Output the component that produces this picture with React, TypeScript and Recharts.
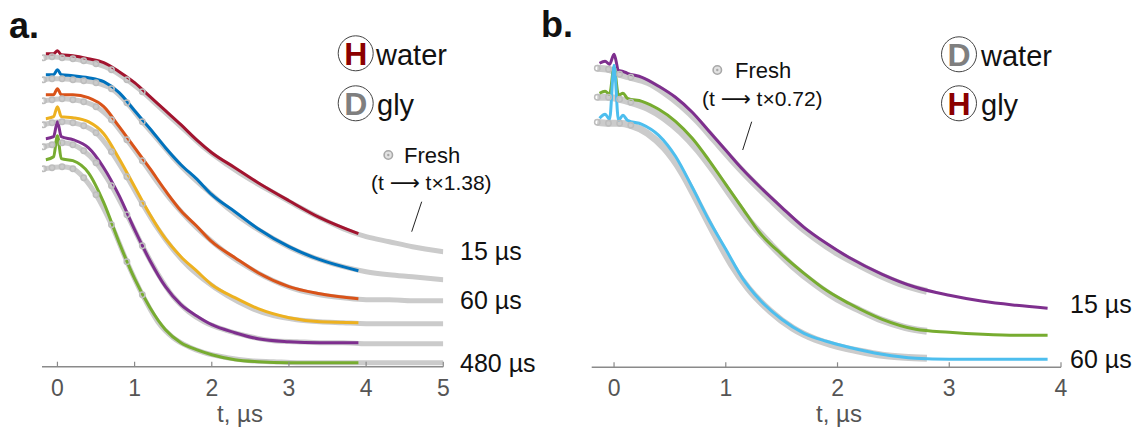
import React from 'react';
import { LineChart, Line, XAxis, YAxis } from 'recharts';

// panel a: measured traces (colored) share one time grid, µs
const tA = [-0.15, -0.05, 0, 0.05, 0.2, 0.4, 0.6, 0.8, 1.0, 1.2, 1.4, 1.6, 1.8, 2.0, 2.3, 2.6, 3.0, 3.4, 3.9];
const redA = [3.13, 3.13, 3.16, 3.12, 3.11, 3.08, 3.04, 2.95, 2.84, 2.7, 2.56, 2.42, 2.27, 2.14, 1.99, 1.84, 1.66, 1.49, 1.33];
const blueA = [2.92, 2.92, 2.97, 2.92, 2.91, 2.89, 2.85, 2.74, 2.56, 2.38, 2.19, 2.02, 1.88, 1.72, 1.55, 1.38, 1.2, 1.07, 0.96];
const orangeA = [2.72, 2.72, 2.78, 2.72, 2.72, 2.69, 2.6, 2.4, 2.19, 1.98, 1.76, 1.56, 1.41, 1.25, 1.09, 0.94, 0.8, 0.73, 0.68];
const yellowA = [2.48, 2.5, 2.6, 2.5, 2.49, 2.45, 2.33, 2.08, 1.8, 1.52, 1.28, 1.1, 0.96, 0.82, 0.69, 0.58, 0.49, 0.45, 0.44];
const purpleA = [2.28, 2.3, 2.45, 2.3, 2.27, 2.19, 1.99, 1.71, 1.37, 1.06, 0.8, 0.62, 0.51, 0.42, 0.34, 0.28, 0.25, 0.24, 0.24];
const greenA = [2.07, 2.1, 2.31, 2.08, 2.06, 1.94, 1.64, 1.24, 0.88, 0.59, 0.37, 0.24, 0.17, 0.12, 0.07, 0.05, 0.04, 0.04, 0.04];

// panel a: fresh sample (grey circles), rescaled time
const tFreshA = [-0.18, -0.07, 0.06, 0.2, 0.34, 0.5, 0.7, 0.9, 1.1, 1.3, 1.5, 1.7, 1.9, 2.2, 2.5, 2.8, 3.1, 3.4, 3.7, 4.0, 4.3, 4.6, 5.0];
const freshA = [
  [3.09, 3.1, 3.09, 3.08, 3.06, 3.03, 2.97, 2.87, 2.75, 2.61, 2.47, 2.33, 2.19, 2.02, 1.87, 1.74, 1.61, 1.49, 1.38, 1.3, 1.25, 1.2, 1.15],
  [2.87, 2.88, 2.88, 2.87, 2.86, 2.84, 2.78, 2.64, 2.45, 2.27, 2.09, 1.93, 1.79, 1.59, 1.42, 1.28, 1.16, 1.07, 1.0, 0.95, 0.92, 0.9, 0.87],
  [2.66, 2.67, 2.68, 2.67, 2.65, 2.6, 2.47, 2.27, 2.06, 1.84, 1.64, 1.47, 1.32, 1.13, 0.98, 0.86, 0.77, 0.72, 0.69, 0.67, 0.67, 0.66, 0.66],
  [2.42, 2.44, 2.45, 2.44, 2.41, 2.34, 2.15, 1.9, 1.63, 1.38, 1.17, 1.0, 0.87, 0.71, 0.59, 0.51, 0.47, 0.45, 0.44, 0.43, 0.43, 0.43, 0.43],
  [2.2, 2.22, 2.24, 2.22, 2.16, 2.04, 1.81, 1.52, 1.21, 0.93, 0.7, 0.55, 0.45, 0.36, 0.3, 0.26, 0.25, 0.24, 0.24, 0.23, 0.23, 0.23, 0.23],
  [1.98, 1.99, 2.0, 1.98, 1.89, 1.72, 1.42, 1.05, 0.72, 0.45, 0.29, 0.2, 0.14, 0.09, 0.06, 0.05, 0.04, 0.04, 0.04, 0.04, 0.04, 0.04, 0.04],
];

// panel b
const tB = [-0.13, -0.08, -0.04, 0, 0.04, 0.08, 0.12, 0.25, 0.4, 0.55, 0.7, 0.85, 1.0, 1.15, 1.3, 1.5, 1.7, 1.9, 2.1, 2.4, 2.7, 3.0, 3.3, 3.6, 3.88];
const purpleB = [3.04, 3.06, 3.03, 3.13, 2.97, 2.96, 2.94, 2.9, 2.81, 2.7, 2.55, 2.36, 2.17, 1.98, 1.81, 1.6, 1.4, 1.24, 1.1, 0.93, 0.8, 0.72, 0.66, 0.62, 0.59];
const greenB = [2.74, 2.76, 2.73, 3.0, 2.72, 2.74, 2.69, 2.66, 2.58, 2.46, 2.29, 2.07, 1.83, 1.59, 1.35, 1.13, 0.94, 0.77, 0.64, 0.48, 0.38, 0.35, 0.33, 0.32, 0.32];
const cyanB = [2.49, 2.53, 2.48, 3.02, 2.47, 2.52, 2.47, 2.43, 2.32, 2.11, 1.8, 1.47, 1.18, 0.89, 0.68, 0.48, 0.34, 0.26, 0.2, 0.13, 0.09, 0.08, 0.08, 0.08, 0.08];

const tFreshB = [-0.15, -0.05, 0.05, 0.15, 0.3, 0.45, 0.6, 0.75, 0.9, 1.05, 1.2, 1.4, 1.6, 1.8, 2.0, 2.2, 2.4, 2.6, 2.8];
const freshB = [
  [2.99, 2.98, 2.93, 2.9, 2.85, 2.75, 2.62, 2.46, 2.27, 2.08, 1.9, 1.68, 1.47, 1.29, 1.14, 1.02, 0.91, 0.82, 0.76],
  [2.7, 2.7, 2.68, 2.65, 2.59, 2.49, 2.35, 2.17, 1.95, 1.71, 1.48, 1.23, 1.01, 0.83, 0.68, 0.57, 0.47, 0.4, 0.36],
  [2.45, 2.44, 2.44, 2.42, 2.34, 2.19, 1.96, 1.65, 1.33, 1.03, 0.79, 0.56, 0.39, 0.28, 0.21, 0.16, 0.12, 0.1, 0.09],
];

const ticksA = [0, 1, 2, 3, 4, 5];
const ticksB = [0, 1, 2, 3, 4];

const colorsA = ['#a2142f', '#0072bd', '#d95319', '#edb120', '#7e2f8e', '#77ac30'];
const colorsB = ['#7e2f8e', '#77ac30', '#4dbeee'];

const FONT = '"Liberation Sans", Arial, Helvetica, sans-serif';
const GREY = '#cbcbcb';

const zip = (t: number[], v: number[]) => t.map((x, i) => ({ t: x, v: v[i] }));

const AxisTick = (props: any) => {
  const { x, y, payload } = props;
  return (
    <g>
      <line x1={x} x2={x} y1={y} y2={y - 5} stroke="#8a8a8a" strokeWidth={1.2} />
      <text x={x} y={y + 29} textAnchor="middle" fontSize={23} fill="#555" fontFamily={FONT}>
        {payload.value}
      </text>
    </g>
  );
};

const circleDot = (maxT: number) => (props: any) => {
  const { cx, cy, payload, index } = props;
  if (payload.t > maxT) return <g key={`d${index}`} />;
  return <circle key={`d${index}`} cx={cx} cy={cy} r={2.7} fill="none" stroke="#bdbdbd" strokeWidth={1.5} />;
};

const Circled = ({ cx, cy, letter, color }: { cx: number; cy: number; letter: string; color: string }) => (
  <g>
    <circle cx={cx} cy={cy} r={17.5} fill="none" stroke="#444" strokeWidth={1} />
    <text x={cx} y={cy + 11.5} textAnchor="middle" fontSize={32} fontWeight="bold" fill={color} fontFamily={FONT}>
      {letter}
    </text>
  </g>
);

const FreshMark = ({ cx, cy }: { cx: number; cy: number }) => (
  <g>
    <circle cx={cx} cy={cy} r={4.2} fill="#e2e2e2" stroke="#a8a8a8" strokeWidth={1.6} />
    <circle cx={cx} cy={cy} r={1.2} fill="#a8a8a8" />
  </g>
);

const Arrow = () => <tspan fontFamily='"DejaVu Sans", sans-serif'>⟶</tspan>;

export default function App() {
  const txt = { fontFamily: FONT, fill: '#111' };
  return (
    <div style={{ position: 'absolute', left: 0, top: 0, width: 1139, height: 429, background: '#fff', overflow: 'hidden' }}>
      <div style={{ position: 'absolute', left: 0, top: 0 }}>
        <LineChart width={560} height={429} margin={{ top: 36.7, right: 116.7, bottom: 32.3, left: 42 }}>
          <XAxis
            type="number"
            dataKey="t"
            domain={[-0.2, 5]}
            ticks={ticksA}
            allowDataOverflow
            height={30}
            tickSize={0}
            tickMargin={0}
            tickLine={false}
            axisLine={{ stroke: '#8a8a8a', strokeWidth: 1.5 }}
            tick={<AxisTick />}
          />
          <YAxis type="number" domain={[0, 3.3]} hide width={0} />
          {freshA.map((v, i) => (
            <Line
              key={`fa${i}`}
              data={zip(tFreshA, v)}
              dataKey="v"
              type="monotone"
              stroke={GREY}
              strokeWidth={5}
              dot={circleDot(1.2)}
              isAnimationActive={false}
            />
          ))}
          {[redA, blueA, orangeA, yellowA, purpleA, greenA].map((v, i) => (
            <Line
              key={`ca${i}`}
              data={zip(tA, v)}
              dataKey="v"
              type="monotone"
              stroke={colorsA[i]}
              strokeWidth={3}
              dot={false}
              isAnimationActive={false}
            />
          ))}
        </LineChart>
      </div>
      <div style={{ position: 'absolute', left: 560, top: 0 }}>
        <LineChart width={579} height={429} margin={{ top: 37.3, right: 78, bottom: 31.7, left: 31.7 }}>
          <XAxis
            type="number"
            dataKey="t"
            domain={[-0.2, 4]}
            ticks={ticksB}
            allowDataOverflow
            height={30}
            tickSize={0}
            tickMargin={0}
            tickLine={false}
            axisLine={{ stroke: '#8a8a8a', strokeWidth: 1.5 }}
            tick={<AxisTick />}
          />
          <YAxis type="number" domain={[0, 3.3]} hide width={0} />
          {freshB.map((v, i) => (
            <Line
              key={`fb${i}`}
              data={zip(tFreshB, v)}
              dataKey="v"
              type="monotone"
              stroke={GREY}
              strokeWidth={7}
              dot={circleDot(0.2)}
              isAnimationActive={false}
            />
          ))}
          {[purpleB, greenB, cyanB].map((v, i) => (
            <Line
              key={`cb${i}`}
              data={zip(tB, v)}
              dataKey="v"
              type="monotone"
              stroke={colorsB[i]}
              strokeWidth={3}
              dot={false}
              isAnimationActive={false}
            />
          ))}
        </LineChart>
      </div>
      <svg width={1139} height={429} style={{ position: 'absolute', left: 0, top: 0, pointerEvents: 'none' }}>
        <text x={9} y={38} fontSize={36} fontWeight="bold" {...txt}>a.</text>
        <text x={541} y={37} fontSize={36} fontWeight="bold" {...txt}>b.</text>

        <Circled cx={355.7} cy={53.3} letter="H" color="#8b0000" />
        <text x={376} y={65} fontSize={29} {...txt}>water</text>
        <Circled cx={355.7} cy={103.3} letter="D" color="#7f7f7f" />
        <text x={377} y={115} fontSize={29} {...txt}>gly</text>

        <Circled cx={959} cy={54.3} letter="D" color="#7f7f7f" />
        <text x={981} y={66} fontSize={29} {...txt}>water</text>
        <Circled cx={959} cy={103.3} letter="H" color="#8b0000" />
        <text x={981} y={115} fontSize={29} {...txt}>gly</text>

        <FreshMark cx={388.3} cy={155} />
        <text x={404} y={163} fontSize={22} {...txt}>Fresh</text>
        <text x={371} y={190} fontSize={21} {...txt}>(t <Arrow /> t×1.38)</text>
        <line x1={421.7} y1={201.7} x2={411.7} y2={231.7} stroke="#222" strokeWidth={1} />

        <FreshMark cx={717.3} cy={70} />
        <text x={735} y={78} fontSize={22} {...txt}>Fresh</text>
        <text x={702} y={106} fontSize={21} {...txt}>(t <Arrow /> t×0.72)</text>
        <line x1={751.7} y1={121.7} x2={742.7} y2={150} stroke="#222" strokeWidth={1} />

        <text x={460} y={260} fontSize={25} {...txt}>15 µs</text>
        <text x={460} y={309} fontSize={25} {...txt}>60 µs</text>
        <text x={460} y={372} fontSize={25} {...txt}>480 µs</text>
        <text x={1070} y={313} fontSize={25} {...txt}>15 µs</text>
        <text x={1070} y={368} fontSize={25} {...txt}>60 µs</text>

        <text x={240} y={422} textAnchor="middle" fontSize={24} fontFamily={FONT} fill="#555">t, µs</text>
        <text x={839} y={422} textAnchor="middle" fontSize={24} fontFamily={FONT} fill="#555">t, µs</text>
      </svg>
    </div>
  );
}
